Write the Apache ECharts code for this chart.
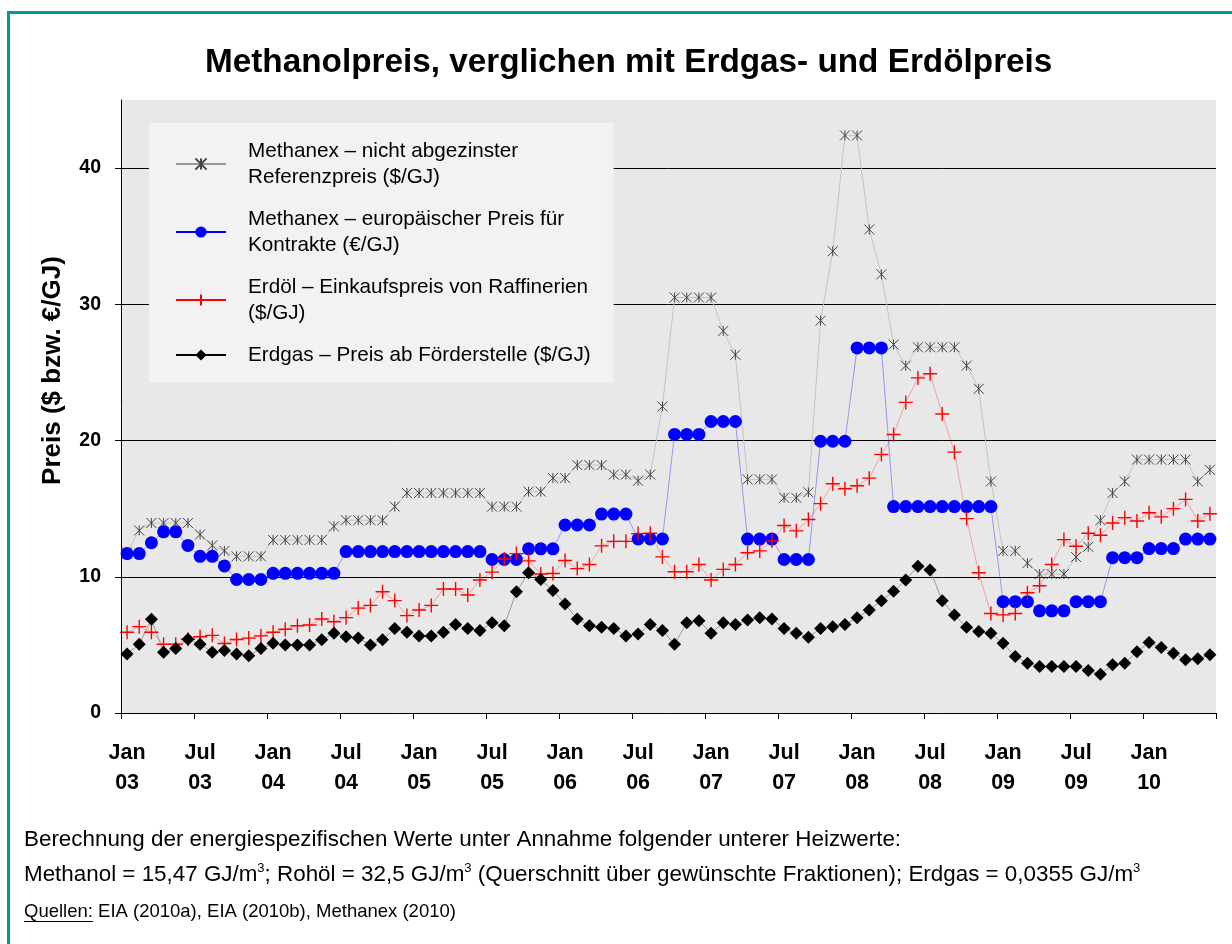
<!DOCTYPE html>
<html>
<head>
<meta charset="utf-8">
<script src="https://cdn.jsdelivr.net/npm/echarts@6/dist/echarts.min.js"></script>
<style>
html,body{margin:0;padding:0;background:#fff;}
#chart{width:1232px;height:944px;}
</style>
</head>
<body>
<div id="chart"></div>
<script>
// ---- data ----
const monthNames = ['Jan','Feb','Mär','Apr','Mai','Jun','Jul','Aug','Sep','Okt','Nov','Dez'];
const years = ['03','04','05','06','07','08','09','10'];
const monthCount = 90; // Jan 03 .. Jun 10
const categories = [];
for (let i = 0; i < monthCount; i++) {
  categories.push(monthNames[i % 12] + ' ' + years[Math.floor(i / 12)]);
}
const yTicks = [0, 10, 20, 30, 40];

const seriesNames = [
  'Methanex – nicht abgezinster\nReferenzpreis ($/GJ)',
  'Methanex – europäischer Preis für\nKontrakte (€/GJ)',
  'Erdöl – Einkaufspreis von Raffinerien\n($/GJ)',
  'Erdgas – Preis ab Förderstelle ($/GJ)'
];

const referenzpreis = [
  11.8,13.4,13.95,13.95,13.95,13.95,13.1,12.3,11.9,11.5,11.5,11.5,
  12.7,12.7,12.7,12.7,12.7,13.7,14.15,14.15,14.15,14.15,15.15,16.15,
  16.15,16.15,16.15,16.15,16.15,16.15,15.15,15.15,15.15,16.25,16.25,17.25,
  17.25,18.2,18.2,18.2,17.5,17.5,17.05,17.5,22.5,30.5,30.5,30.5,
  30.5,28.05,26.3,17.15,17.15,17.15,15.8,15.8,16.2,28.8,33.9,42.4,
  42.4,35.5,32.2,27.05,25.5,26.85,26.85,26.85,26.85,25.5,23.8,17.0,
  11.9,11.9,11.0,10.2,10.2,10.2,11.45,12.2,14.15,16.15,17.0,18.6,
  18.6,18.6,18.6,18.6,17.0,17.85
];
const europaPreis = [
  11.7,11.7,12.5,13.3,13.3,12.3,11.5,11.5,10.8,9.8,9.8,9.8,
  10.25,10.25,10.25,10.25,10.25,10.25,11.85,11.85,11.85,11.85,11.85,11.85,
  11.85,11.85,11.85,11.85,11.85,11.85,11.27,11.27,11.27,12.05,12.05,12.05,
  13.8,13.8,13.8,14.6,14.6,14.6,12.78,12.78,12.78,20.45,20.45,20.45,
  21.4,21.4,21.4,12.77,12.77,12.77,11.27,11.27,11.27,19.95,19.95,19.95,
  26.8,26.8,26.8,15.15,15.15,15.15,15.15,15.15,15.15,15.15,15.15,15.15,
  8.17,8.17,8.17,7.5,7.5,7.5,8.17,8.17,8.17,11.4,11.4,11.4,
  12.07,12.07,12.07,12.77,12.77,12.77
];
const erdoelPreis = [
  5.93,6.34,5.93,5.05,5.05,5.41,5.6,5.7,5.1,5.4,5.5,5.66,
  5.93,6.15,6.4,6.46,6.9,6.7,7.0,7.7,7.9,8.9,8.25,7.15,
  7.56,7.9,9.1,9.1,8.66,9.76,10.34,11.3,11.7,11.17,10.2,10.24,
  11.2,10.6,10.9,12.27,12.6,12.6,13.17,13.2,11.46,10.37,10.37,10.9,
  9.76,10.54,10.9,11.76,11.9,12.63,13.76,13.37,14.2,15.37,16.83,16.46,
  16.68,17.24,18.98,20.44,22.8,24.6,24.9,21.95,19.15,14.27,10.3,7.3,
  7.2,7.3,8.83,9.34,10.9,12.73,12.24,13.2,13.05,13.95,14.34,14.1,
  14.7,14.4,15.0,15.68,14.1,14.63
];
const erdgasPreis = [
  4.34,5.05,6.88,4.46,4.73,5.41,5.05,4.46,4.59,4.34,4.2,4.73,
  5.12,5.0,5.0,5.0,5.37,5.85,5.6,5.5,5.0,5.37,6.2,5.93,
  5.66,5.66,5.93,6.5,6.2,6.05,6.63,6.4,8.9,10.3,9.8,9.0,
  8.0,6.9,6.4,6.3,6.2,5.66,5.8,6.5,6.05,5.05,6.63,6.78,
  5.85,6.63,6.5,6.83,7.0,6.9,6.2,5.85,5.56,6.2,6.34,6.5,
  7.0,7.56,8.24,8.93,9.76,10.78,10.49,8.24,7.2,6.29,5.98,5.85,
  5.12,4.15,3.66,3.41,3.41,3.41,3.41,3.12,2.85,3.54,3.66,4.5,
  5.17,4.8,4.39,3.9,3.98,4.27
];

const titleText = 'Methanolpreis, verglichen mit Erdgas- und Erdölpreis';
const yAxisName = 'Preis ($ bzw. €/GJ)';
const noteLine1 = 'Berechnung der energiespezifischen Werte unter Annahme folgender unterer Heizwerte:';
const noteLine2 = 'Methanol = 15,47 GJ/m{s|3}; Rohöl = 32,5 GJ/m{s|3} (Querschnitt über gewünschte Fraktionen); Erdgas = 0,0355 GJ/m{s|3}';
const sourceLabel = 'Quellen:';
const sourceText = ' EIA (2010a), EIA (2010b), Methanex (2010)';

// ---- chart ----
const FONT = '"Liberation Sans", Arial, Helvetica, sans-serif';
const chart = echarts.init(document.getElementById('chart'), null, {renderer: 'canvas'});

const ASTERISK = 'path://M0,0L10,10M10,0L0,10M5,0L5,10';
const PLUS = 'path://M5,0L5,10M0,5L10,5';

const srcFontSize = 18.5;
const measureCtx = document.createElement('canvas').getContext('2d');
measureCtx.font = srcFontSize + 'px "Liberation Sans", Arial, sans-serif';
const srcLabelWidth = measureCtx.measureText(sourceLabel).width;

const option = {
  animation: false,
  backgroundColor: '#ffffff',
  title: {
    text: titleText,
    left: 205,
    top: 46,
    padding: 0,
    textStyle: {fontFamily: FONT, fontSize: 33.3, fontWeight: 'bold', color: '#000'}
  },
  legend: {
    orient: 'vertical',
    left: 149,
    top: 123,
    backgroundColor: '#f2f2f2',
    padding: [15, 23, 14, 26],
    itemGap: 16,
    itemWidth: 50,
    itemHeight: 14,
    selectedMode: false,
    textStyle: {fontFamily: FONT, fontSize: 20.7, color: '#000', lineHeight: 26, padding: [0, 0, 0, 17]},
    data: [
      {name: seriesNames[0], lineStyle: {color: '#999999', width: 2, opacity: 1}},
      {name: seriesNames[1], lineStyle: {color: '#0000ff', width: 2, opacity: 1}},
      {name: seriesNames[2], lineStyle: {color: '#ff0000', width: 2, opacity: 1}},
      {name: seriesNames[3], lineStyle: {color: '#000000', width: 2, opacity: 1}}
    ]
  },
  grid: {
    left: 121, right: 16, top: 100, bottom: 231,
    show: true, backgroundColor: '#e8e8e8', borderWidth: 0
  },
  xAxis: {
    type: 'category',
    data: categories,
    boundaryGap: true,
    axisLine: {lineStyle: {color: '#000', width: 1}},
    axisTick: {show: true, interval: 5, length: 6, lineStyle: {color: '#000'}},
    axisLabel: {
      interval: 5,
      formatter: v => v.replace(' ', '\n'),
      fontFamily: FONT, fontSize: 21.5, fontWeight: 'bold', color: '#000',
      lineHeight: 30, margin: 25
    },
    splitLine: {show: false}
  },
  yAxis: {
    type: 'value',
    min: 0, max: 45, interval: 10,
    name: yAxisName,
    nameLocation: 'middle',
    nameGap: 55,
    nameTextStyle: {fontFamily: FONT, fontSize: 26, fontWeight: 'bold', color: '#000', padding: [0, 0, 0, 72]},
    axisLine: {show: true, lineStyle: {color: '#000', width: 1}},
    axisTick: {show: true, length: 6, customValues: yTicks, lineStyle: {color: '#000'}},
    axisLabel: {customValues: yTicks, fontFamily: FONT, fontSize: 19.5, fontWeight: 'bold', color: '#000', margin: 20},
    splitLine: {show: true, lineStyle: {color: ['#000', '#000', '#000', '#000', '#000', 'rgba(0,0,0,0)'], width: 1}}
  },
  series: [
    {
      name: seriesNames[0], type: 'line', data: referenzpreis,
      symbol: ASTERISK, symbolSize: 10, showAllSymbol: true,
      lineStyle: {color: '#c4c4c4', width: 1},
      itemStyle: {color: '#444', borderColor: '#444', borderWidth: 1},
      emphasis: {disabled: true}
    },
    {
      name: seriesNames[1], type: 'line', data: europaPreis,
      symbol: 'circle', symbolSize: 13, showAllSymbol: true,
      lineStyle: {color: '#0000ff', width: 1, opacity: 0.35},
      itemStyle: {color: '#0000ff', borderWidth: 0},
      emphasis: {disabled: true}
    },
    {
      name: seriesNames[2], type: 'line', data: erdoelPreis,
      symbol: PLUS, symbolSize: 14, showAllSymbol: true,
      lineStyle: {color: '#ff0000', width: 1, opacity: 0.3},
      itemStyle: {color: '#ff0000', borderColor: '#ff0000', borderWidth: 1.4},
      emphasis: {disabled: true}
    },
    {
      name: seriesNames[3], type: 'line', data: erdgasPreis,
      symbol: 'diamond', symbolSize: 13, showAllSymbol: true,
      lineStyle: {color: '#999999', width: 1},
      itemStyle: {color: '#000000', borderWidth: 0},
      emphasis: {disabled: true}
    }
  ],
  graphic: [
    {
      type: 'rect', silent: true,
      shape: {x: 8.5, y: 12.5, width: 1300, height: 1000},
      style: {fill: 'none', stroke: '#009999', lineWidth: 3}
    },
    {
      type: 'text', left: 24, top: 829,
      style: {text: noteLine1, font: '22.4px ' + FONT, fill: '#000'}
    },
    {
      type: 'text', left: 24, top: 862,
      style: {
        text: noteLine2, font: '22.4px ' + FONT, fill: '#000',
        rich: {s: {fontSize: 13, fontFamily: FONT, verticalAlign: 'top', lineHeight: 26}}
      }
    },
    {
      type: 'text', left: 24, top: 902,
      style: {text: sourceLabel + sourceText, font: srcFontSize + 'px ' + FONT, fill: '#000'}
    },
    {
      type: 'line', silent: true,
      shape: {x1: 24, y1: 921.5, x2: 24 + srcLabelWidth, y2: 921.5},
      style: {stroke: '#000', lineWidth: 1}
    }
  ]
};
chart.setOption(option);
</script>
</body>
</html>
